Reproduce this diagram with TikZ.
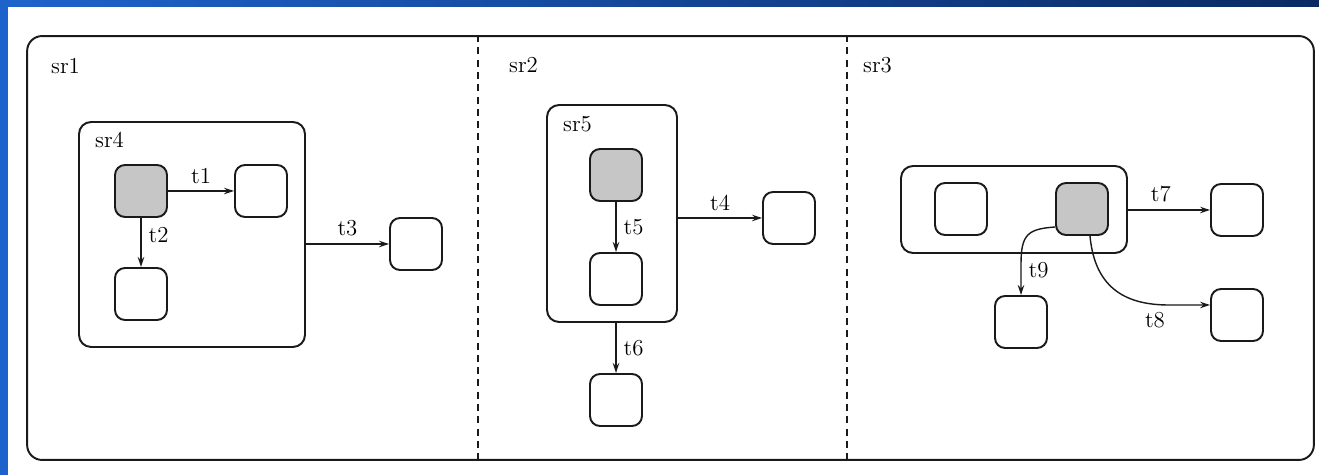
\documentclass[tikz,border=0pt]{standalone}
\usetikzlibrary{arrows.meta, positioning}
\definecolor{slideblue}{HTML}{1E63CC}
\definecolor{slidenavy}{HTML}{0B2A63}
\definecolor{initgray}{HTML}{C6C6C6}
\definecolor{inkline}{HTML}{1A1A1A}

\begin{document}
\begin{tikzpicture}[x=0.02cm, y=-0.02cm, font=\fontsize{13}{16}\selectfont,
	stbox/.style={draw=inkline, line width=1.1pt, rounded corners=0.2cm, minimum size=1.04cm, inner sep=0pt},
	initbox/.style={stbox, fill=initgray},
	superbox/.style={draw=inkline, line width=1.1pt, rounded corners=0.24cm, inner sep=0pt},
	trans/.style={-{Stealth[length=2mm, width=1.3mm]}, line width=0.8pt, draw=inkline},
	tlabel/.style={inner sep=4pt},
	regionline/.style={draw=inkline, line width=1.1pt, dash pattern=on 4pt off 3pt}]
	% slide background
	\useasboundingbox (0,0) rectangle (1319,475);
	\fill[slideblue] (0,0) rectangle (1319,475);
	\shade[left color=slideblue, right color=slidenavy] (0,0) rectangle (1319,7);
	\fill[white] (8,7) rectangle (1319,475);
	% outer state with three regions
	\node[superbox, rounded corners=0.3cm, minimum width=25.74cm, minimum height=8.48cm] (frame) at (670.5,248) {};
	\coordinate (d1) at (478,0);
	\coordinate (d2) at (847,0);
	\draw[regionline] (frame.north -| d1) -- (frame.south -| d1);
	\draw[regionline] (frame.north -| d2) -- (frame.south -| d2);
	% region sr1
	\node[anchor=base west] (sr1) at (45,74) {sr1};
	\node[superbox, minimum width=4.52cm, minimum height=4.5cm] (sr4) at (192,234.5) {};
	\node[anchor=base west] (sr4lbl) at (89,148) {sr4};
	\node[initbox] (a0) at (141,191) {};
	\node[stbox] (a1) at (261,191) {};
	\node[stbox] (a2) at (141,294) {};
	\node[stbox] (a3) at (416,244) {};
	\draw[trans] (a0) -- node[tlabel, above] {t1} (a1);
	\draw[trans] (a0) -- node[tlabel, right, pos=0.35] {t2} (a2);
	\draw[trans] (sr4.east |- a3) -- node[tlabel, above] {t3} (a3);
	% region sr2
	\node[anchor=base west] (sr2) at (503,73) {sr2};
	\node[superbox, minimum width=2.6cm, minimum height=4.34cm] (sr5) at (612,213.5) {};
	\node[anchor=base west] (sr5lbl) at (557,132) {sr5};
	\node[initbox] (b0) at (616,175) {};
	\node[stbox] (b1) at (616,279) {};
	\node[stbox] (b2) at (789,218) {};
	\node[stbox] (b3) at (616,400) {};
	\draw[trans] (b0) -- node[tlabel, right] {t5} (b1);
	\draw[trans] (sr5.east |- b2) -- node[tlabel, above] {t4} (b2);
	\draw[trans] (b3 |- sr5.south) -- node[tlabel, right] {t6} (b3);
	% region sr3
	\node[anchor=base west] (sr3) at (857,73) {sr3};
	\node[superbox, minimum width=4.52cm, minimum height=1.74cm] (sr6) at (1014,209.5) {};
	\node[stbox] (c0) at (961,209) {};
	\node[initbox] (c1) at (1082,209) {};
	\node[stbox] (c2) at (1237,210) {};
	\node[stbox] (c3) at (1237,315) {};
	\node[stbox] (c4) at (1021,322) {};
	\draw[trans] (sr6.east |- c2) -- node[tlabel, above, pos=0.4] {t7} (c2);
	\draw[trans] ([xshift=0.16cm]c1.south) .. controls +(5,55) and +(-40,0) .. node[tlabel, below, pos=0.88] {t8} ([xshift=-0.82cm, yshift=0.2cm]c3.west) -- ([yshift=0.2cm]c3.west);
	\draw[trans] ([yshift=-0.36cm]c1.west) .. controls +(-27,2) and +(0,-30) .. ([yshift=0.62cm]c4.north) -- node[tlabel, right, pos=0.2] {t9} (c4);
\end{tikzpicture}
\end{document}
